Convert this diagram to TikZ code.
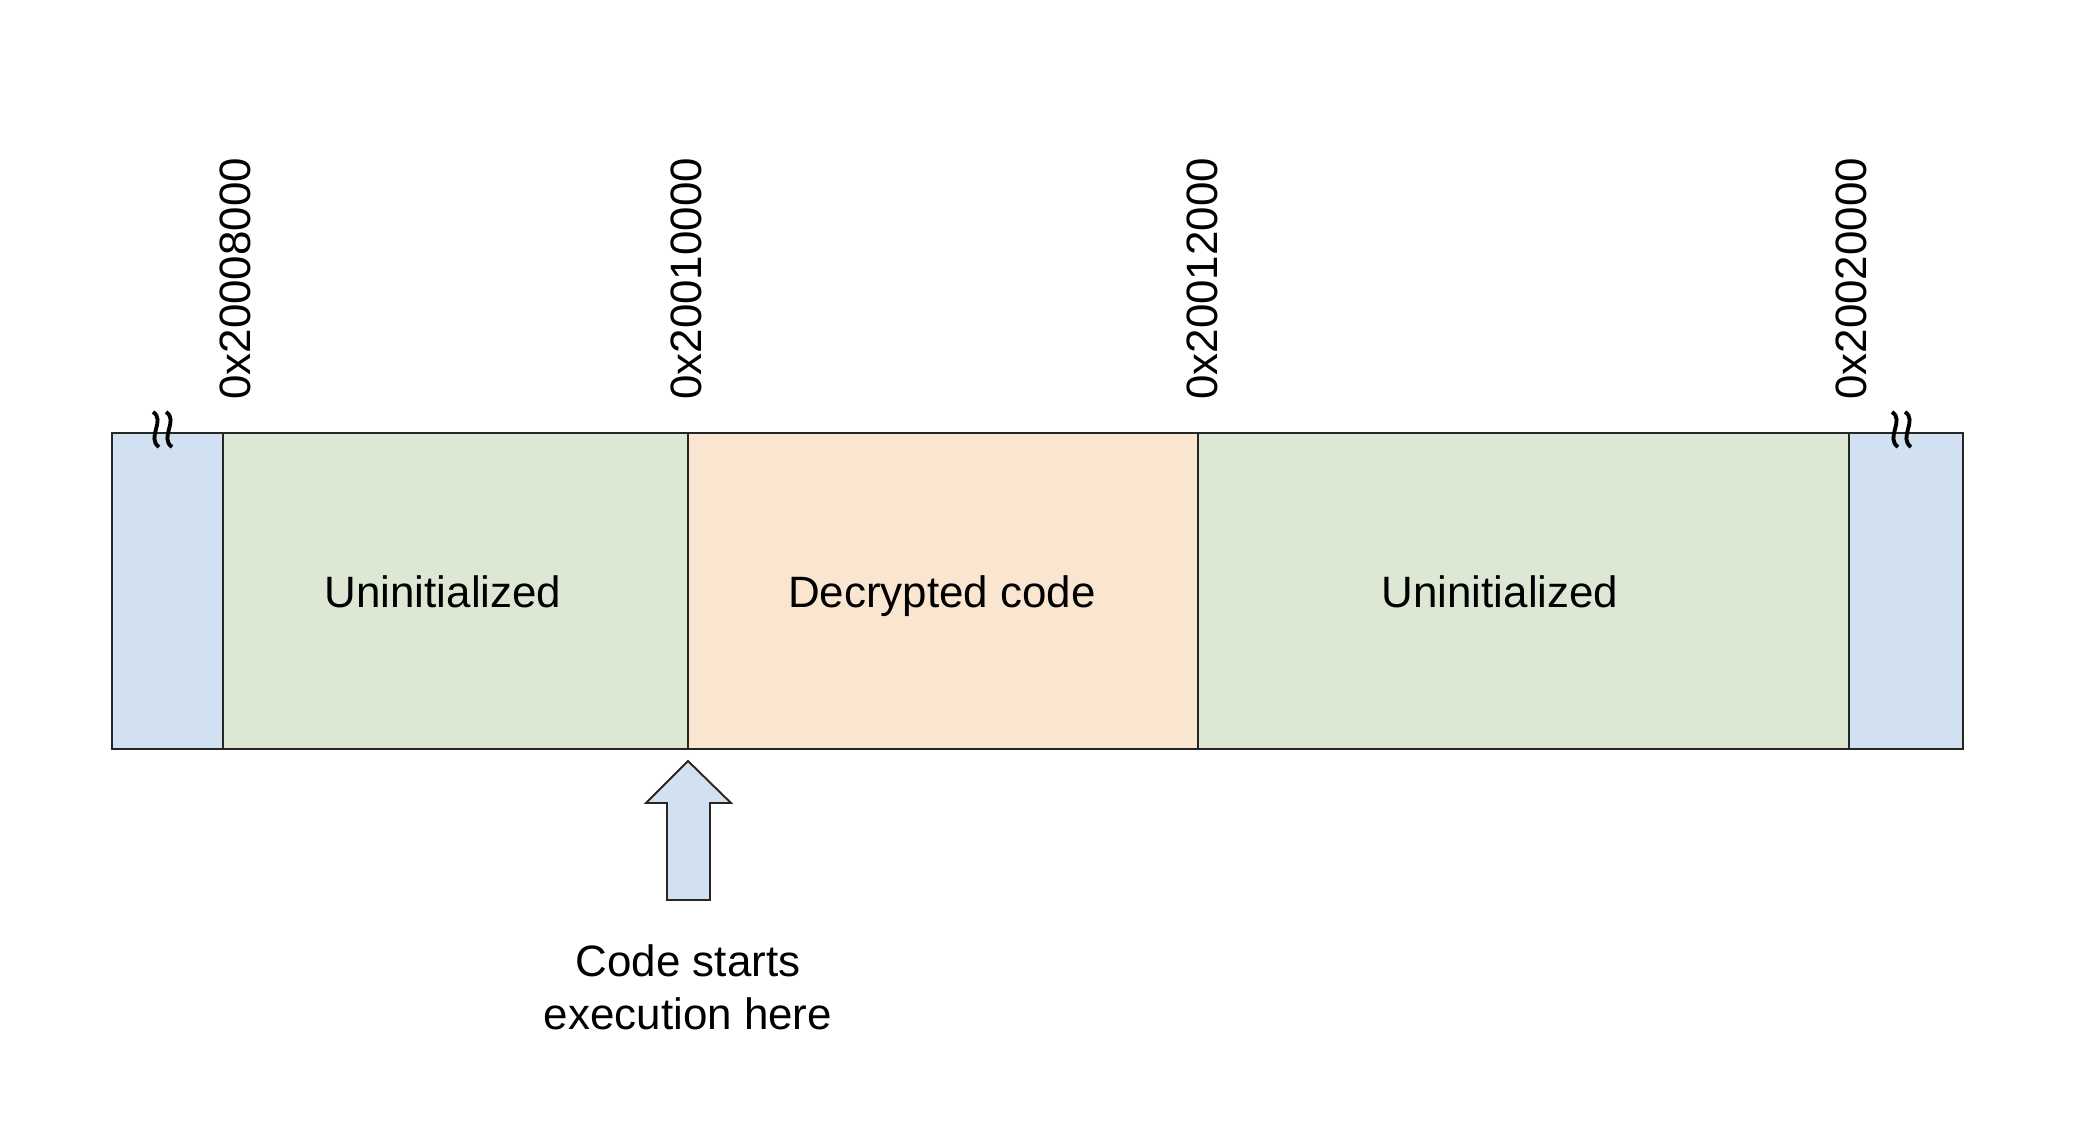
\documentclass[tikz,border=0pt]{standalone}
\usepackage{fontspec}
\setmainfont{Liberation Sans}
\usepackage{tikz}
\usetikzlibrary{calc}
\definecolor{memblue}{HTML}{D2E1F2}
\definecolor{memgreen}{HTML}{DCE8D4}
\definecolor{memorange}{HTML}{F9E5D0}
\definecolor{memline}{HTML}{262626}

\begin{document}
\begin{tikzpicture}[x=0.02cm,y=-0.02cm,font=\fontsize{25pt}{30pt}\selectfont]
  \useasboundingbox (0,0) rectangle (2086,1122);
  \coordinate (TopLeft) at (112,433);
  \coordinate (BotRight) at (1963,749);

  % regions
  \fill[memblue] (112,433) rectangle (223,749);
  \fill[memgreen] (223,433) rectangle (688,749);
  \fill[memorange] (688,433) rectangle (1198,749);
  \fill[memgreen] (1198,433) rectangle (1849,749);
  \fill[memblue] (1849,433) rectangle (1963,749);
  \foreach \x in {223,688,1198,1849}
    {
    \draw[memline,line width=1.2pt] (\x,433) -- (\x,749);
    }
  \draw[memline,line width=1.5pt] (TopLeft) rectangle (BotRight);

  % break marks
  \foreach \x in {153,1892}
    {
    \foreach \d in {0,13}
      {
      \draw[black,line width=2.2pt] (\x+\d,412) .. controls (\x+\d+13,420) and (\x+\d-7,438) .. (\x+\d+6,447);
      }
    }

  % addresses
  \node[rotate=90,anchor=west,inner sep=0] (addrA) at (235,400) {0x20008000};
  \node[rotate=90,anchor=west,inner sep=0] (addrB) at (686,400) {0x20010000};
  \node[rotate=90,anchor=west,inner sep=0] (addrC) at (1202,400) {0x20012000};
  \node[rotate=90,anchor=west,inner sep=0] (addrD) at (1851,400) {0x20020000};

  % region texts
  \node[anchor=base,inner sep=0] (uninitA) at (443,607) {Uninitialized};
  \node[anchor=base,inner sep=0] (decrypt) at (942,607) {Decrypted code};
  \node[anchor=base,inner sep=0] (uninitB) at (1500,607) {Uninitialized};

  % entry arrow
  \coordinate (Entry) at (688,761);
  \draw[memline,fill=memblue,line width=1.1pt,line join=miter] (Entry)
      -- ($(Entry)+(43,42)$) -- ($(Entry)+(22,42)$) -- ($(Entry)+(22,139)$)
      -- ($(Entry)+(-21,139)$) -- ($(Entry)+(-21,42)$) -- ($(Entry)+(-42,42)$) -- cycle;
  \node[align=center,inner sep=0] (startnote) at (688,987) {Code starts\\execution here};
\end{tikzpicture}
\end{document}
